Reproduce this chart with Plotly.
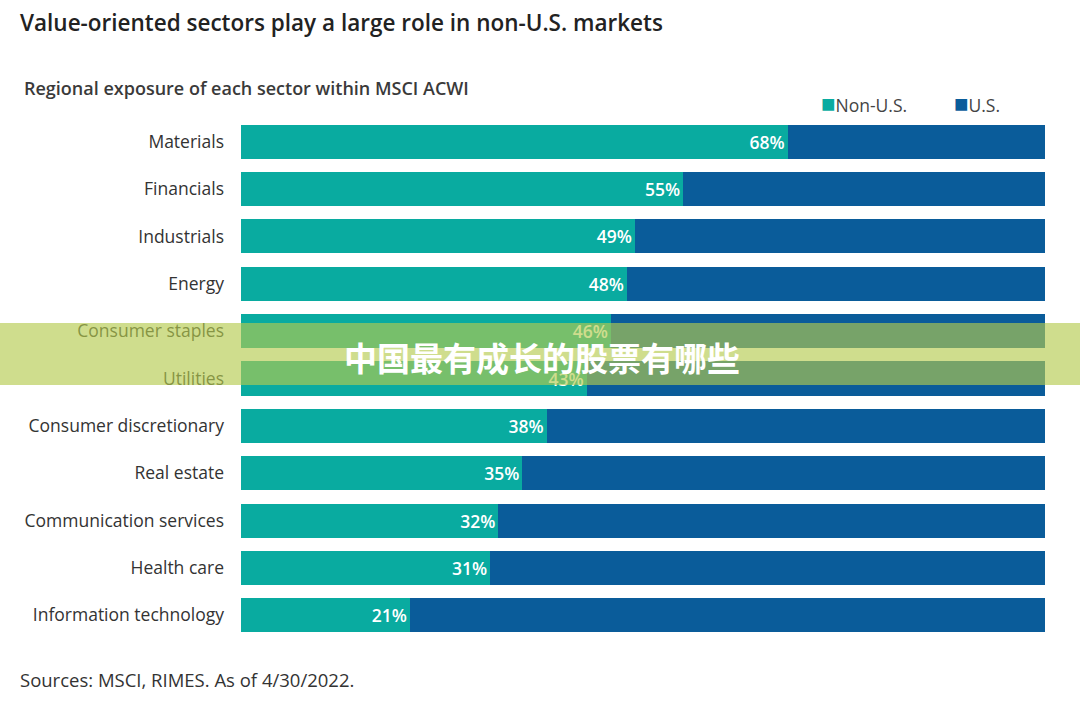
import plotly.graph_objects as go

sectors = ["Materials", "Financials", "Industrials", "Energy", "Consumer staples",
           "Utilities", "Consumer discretionary", "Real estate",
           "Communication services", "Health care", "Information technology"]
non_us = [68, 55, 49, 48, 46, 43, 38, 35, 32, 31, 21]
us = [100 - v for v in non_us]

TEAL = "#09ABA0"
BLUE = "#0A5C9A"
FONT = "Open Sans"

W, H = 1080, 710
L, R, T, B = 241, 35, 118, 71
pw, ph = W - L - R, H - T - B

def px(x):
    return (x - L) / pw

def py(y):
    return (H - B - y) / ph

fig = go.Figure()
fig.add_trace(go.Bar(
    y=sectors, x=non_us, orientation="h", name="Non-U.S.",
    marker=dict(color=TEAL, line=dict(width=0)),
    text=[f"{v}%" for v in non_us], textposition="inside",
    insidetextanchor="end",
    textfont=dict(color="white", size=17.5, family=FONT, weight=600),
    hoverinfo="x+y",
))
fig.add_trace(go.Bar(
    y=sectors, x=us, orientation="h", name="U.S.",
    marker=dict(color=BLUE, line=dict(width=0)),
    hoverinfo="x+y",
))

fig.update_layout(
    width=W, height=H,
    barmode="stack", bargap=0.28,
    showlegend=False,
    plot_bgcolor="white", paper_bgcolor="white",
    margin=dict(l=L, r=R, t=T, b=B),
    font=dict(family=FONT, color="#333333"),
    xaxis=dict(range=[0, 100], visible=False),
    yaxis=dict(autorange="reversed", tickfont=dict(size=17.5, color="#333333", family=FONT),
               ticklabelstandoff=16, showline=False, showgrid=False),
)

annos = [
    dict(text="Value-oriented sectors play a large role in non-U.S. markets",
         x=px(18), y=py(22), xanchor="left", yanchor="middle",
         font=dict(size=22.5, color="#222222", family=FONT, weight=600)),
    dict(text="Regional exposure of each sector within MSCI ACWI",
         x=px(22), y=py(88), xanchor="left", yanchor="middle",
         font=dict(size=18, color="#3a3a3a", family=FONT, weight=600)),
    dict(text=f"<span style='color:{TEAL};font-size:24px'>■</span>Non-U.S.",
         x=px(819), y=py(102), xanchor="left", yanchor="middle",
         font=dict(size=17.5, color="#444444", family=FONT)),
    dict(text=f"<span style='color:{BLUE};font-size:24px'>■</span>U.S.",
         x=px(952), y=py(102), xanchor="left", yanchor="middle",
         font=dict(size=17.5, color="#444444", family=FONT)),
    dict(text="Sources: MSCI, RIMES. As of 4/30/2022.",
         x=px(18), y=py(679), xanchor="left", yanchor="middle",
         font=dict(size=18.5, color="#333333", family=FONT)),
    dict(text="<b>中国最有成长的股票有哪些</b>",
         x=px(542), y=py(357), xanchor="center", yanchor="middle",
         font=dict(size=33, color="white", family="Noto Sans CJK SC")),
]
for a in annos:
    a.update(xref="paper", yref="paper", showarrow=False)
fig.update_layout(annotations=annos)

fig.add_shape(type="rect", xref="paper", yref="paper",
              x0=px(0), x1=px(1080), y0=py(385), y1=py(323),
              fillcolor="rgba(181,202,77,0.645)", line=dict(width=0), layer="above")

fig.write_html("out.html")
